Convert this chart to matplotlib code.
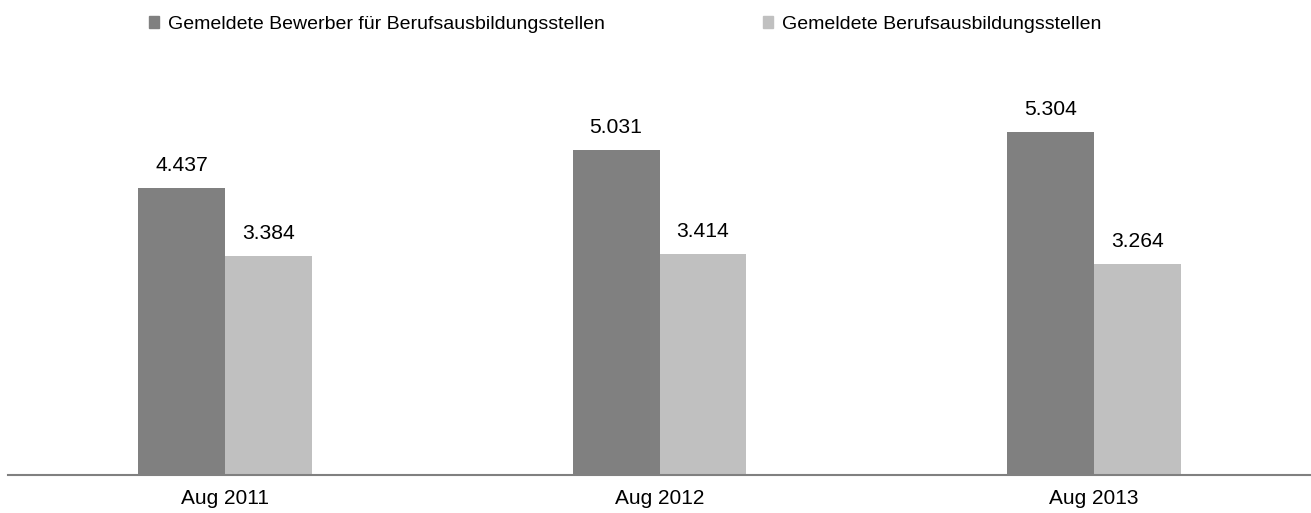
import numpy as np
import matplotlib.pyplot as plt
from matplotlib.patches import Patch

plt.rcParams['font.family'] = ['Liberation Sans', 'DejaVu Sans']

# values (in thousands)
categories = ["Aug 2011", "Aug 2012", "Aug 2013"]
bewerber = [4.437, 5.031, 5.304]
stellen = [3.384, 3.414, 3.264]
labels = ["Gemeldete Bewerber für Berufsausbildungsstellen",
          "Gemeldete Berufsausbildungsstellen"]

dark = "#808080"
light = "#c0c0c0"

fig = plt.figure(figsize=(13.11, 5.13), dpi=100)
ax = fig.add_axes([8 / 1311, 38 / 513, 1 - 8 / 1311, 420.5 / 513])

x = np.arange(len(categories))
w = 0.2
b1 = ax.bar(x - w / 2, bewerber, w, color=dark)
b2 = ax.bar(x + w / 2, stellen, w, color=light)

for bars, vals in ((b1, bewerber), (b2, stellen)):
    for r, v in zip(bars, vals):
        ax.text(r.get_x() + r.get_width() / 2, v + 0.2, f"{v:.3f}",
                ha="center", va="bottom", fontsize=15.2)

ax.set_xlim(-0.5, 2.5)
ax.set_ylim(0, 6.5)
ax.set_xticks(x)
ax.set_xticklabels(categories, fontsize=15)
ax.tick_params(axis="x", length=0, pad=10)
ax.set_yticks([])
for s in ("top", "right", "left"):
    ax.spines[s].set_visible(False)
ax.spines["bottom"].set_color(dark)
ax.spines["bottom"].set_linewidth(1.5)

handles = [Patch(color=dark), Patch(color=light)]
fig.legend(handles, labels, loc="upper left", bbox_to_anchor=(149 / 1311, 1 - 16 / 513),
           ncol=2, frameon=False, fontsize=14, handlelength=0.51, handleheight=0.51,
           handletextpad=0.46, columnspacing=8.15, borderaxespad=0, borderpad=0)

fig.savefig("out.png", dpi=100)
